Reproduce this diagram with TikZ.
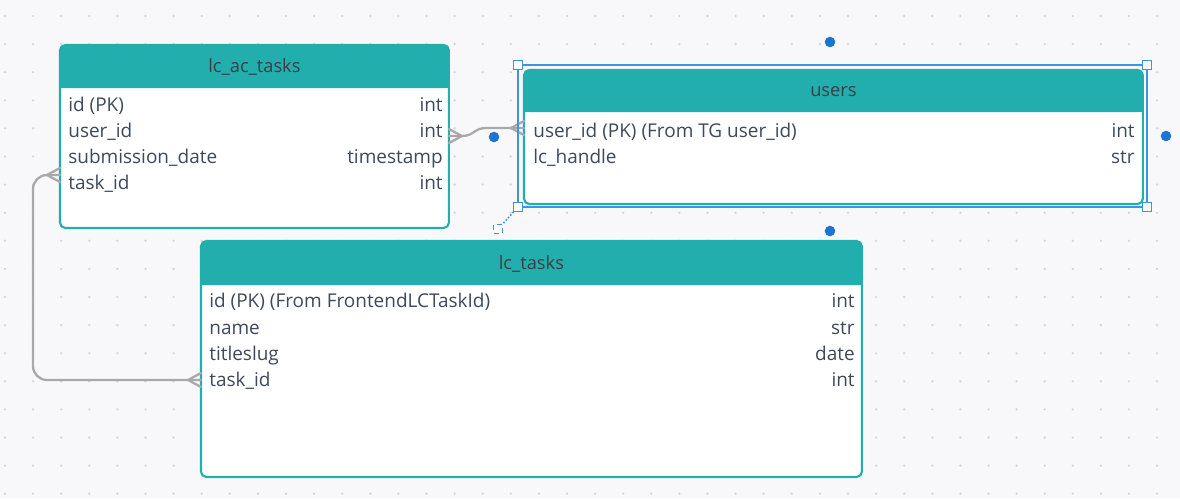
\documentclass[tikz,border=0pt]{standalone}
\usepackage{fontspec}
\setmainfont{Open Sans}
\usetikzlibrary{positioning,calc}

\definecolor{tealhd}{HTML}{23AEAE}
\definecolor{rowtxt}{HTML}{3E4A5C}
\definecolor{hdtxt}{HTML}{3A3F44}
\definecolor{linkgray}{HTML}{A9A9A9}
\definecolor{selblue}{HTML}{3D94E0}
\definecolor{dotblue}{HTML}{1B74D1}
\definecolor{canvas}{HTML}{F8F8FB}
\definecolor{griddot}{HTML}{D5D6DD}

\tikzset{
  crow/.pic={\draw[rel] (0,-7) -- (13,0) -- (0,7);}
}

\begin{document}
\begin{tikzpicture}[x=0.02cm, y=-0.02cm,
  tbl/.style={rectangle, draw=tealhd, line width=1.2pt, fill=white, rounded corners=3pt, anchor=north west, inner sep=0pt, outer sep=0pt},
  hdr/.style={font=\fontsize{10.4}{12}\selectfont, text=hdtxt, inner sep=0pt},
  fld/.style={font=\fontsize{10.8}{13}\selectfont, text=rowtxt, inner sep=0pt, text height=8pt, text depth=1pt, anchor=west},
  typ/.style={fld, anchor=east},
  rel/.style={draw=linkgray, line width=1.3pt, line join=round, line cap=round},
  dot/.style={circle, fill=dotblue, minimum size=6pt, inner sep=0pt},
  handle/.style={rectangle, draw=selblue, fill=white, line width=0.6pt, minimum size=5pt, inner sep=0pt}]

% canvas and grid
\fill[canvas] (0,0) rectangle (1180,498);
\useasboundingbox (0,0) rectangle (1180,498);
\foreach \i in {0,...,41}
  \foreach \j in {0,...,17}
    \fill[griddot] (5+28.1*\i, 16+28.1*\j) circle (0.75pt);

% lc_ac_tasks
\node[tbl, minimum width=7.78cm, minimum height=3.66cm] (ac) at (60,45) {};
\fill[tealhd, rounded corners=3pt] (ac.north west) rectangle ($(ac.north east)+(0,43)$);
\fill[tealhd] ($(ac.north west)+(0,20)$) rectangle ($(ac.north east)+(0,43)$);
\node[hdr] (actitle) at ($(ac.north)+(0,22)$) {lc\_ac\_tasks};
\node[fld] (acid) at (68,105) {id (PK)};
\node[fld] (acuser) at (68,131) {user\_id};
\node[fld] (acdate) at (68,157) {submission\_date};
\node[fld] (actask) at (68,183) {task\_id};
\node[typ] (acidt) at (443,105) {int};
\node[typ] (acusert) at (443,131) {int};
\node[typ] (acdatet) at (443,157) {timestamp};
\node[typ] (actaskt) at (443,183) {int};

% users
\node[tbl, minimum width=12.38cm, minimum height=2.68cm] (users) at (524,70) {};
\fill[tealhd, rounded corners=3pt] (users.north west) rectangle ($(users.north east)+(0,42)$);
\fill[tealhd] ($(users.north west)+(0,20)$) rectangle ($(users.north east)+(0,42)$);
\node[hdr] (utitle) at ($(users.north)+(0,22)$) {users};
\node[fld] (uuser) at (533,131) {user\_id (PK) (From TG user\_id)};
\node[fld] (uhandle) at (533,157) {lc\_handle};
\node[typ] (uusert) at (1135,131) {int};
\node[typ] (uhandlet) at (1135,157) {str};

% lc_tasks
\node[tbl, minimum width=13.22cm, minimum height=4.72cm] (lcbox) at (201,241) {};
\fill[tealhd, rounded corners=3pt] (lcbox.north west) rectangle ($(lcbox.north east)+(0,44)$);
\fill[tealhd] ($(lcbox.north west)+(0,20)$) rectangle ($(lcbox.north east)+(0,44)$);
\node[hdr] (lctitle) at ($(lcbox.north)+(0,23)$) {lc\_tasks};
\node[fld] (lcid) at (209,301) {id (PK) (From FrontendLCTaskId)};
\node[fld] (lcname) at (209,328) {name};
\node[fld] (lcslug) at (209,354) {titleslug};
\node[fld] (lctask) at (209,380) {task\_id};
\node[typ] (lcidt) at (855,301) {int};
\node[typ] (lcnamet) at (855,328) {str};
\node[typ] (lcslugt) at (855,354) {date};
\node[typ] (lctaskt) at (855,380) {int};

% relations
\draw[rel] ($(ac.east |- acuser)+(0,5)$) -- ++(13,0)
  .. controls +(12,0) and +(-12,0) .. ($(users.west |- uuser)+(-38,-3)$)
  -- ($(users.west |- uuser)+(0,-3)$);
\pic at ($(ac.east |- acuser)+(0,5)$) {crow};
\pic[rotate=180] at ($(users.west |- uuser)+(0,-3)$) {crow};

\draw[rel, rounded corners=8pt] ($(ac.west |- actask)+(0,-8)$)
  -| ($(lcbox.west |- lctask)+(-168,0)$) -- (lcbox.west |- lctask);
\pic[rotate=180] at ($(ac.west |- actask)+(0,-8)$) {crow};
\pic[rotate=180] at (lcbox.west |- lctask) {crow};

% selection of users
\draw[selblue, line width=0.6pt] (518,65) rectangle (1147,207);
\node[handle] (hnw) at (518,65) {};
\node[handle] (hne) at (1147,65) {};
\node[handle] (hse) at (1147,207) {};
\node[handle] (hsw) at (518,207) {};
\node[handle, densely dashed, line width=0.8pt] (hrot) at (498,229) {};
\draw[selblue, densely dotted, line width=0.9pt] (hsw) -- (hrot);
\node[dot] (dtop) at (830,42) {};
\node[dot] (dright) at (1166,136) {};
\node[dot] (dleft) at (494,137) {};
\node[dot] (dbottom) at (830,231) {};
\end{tikzpicture}
\end{document}
